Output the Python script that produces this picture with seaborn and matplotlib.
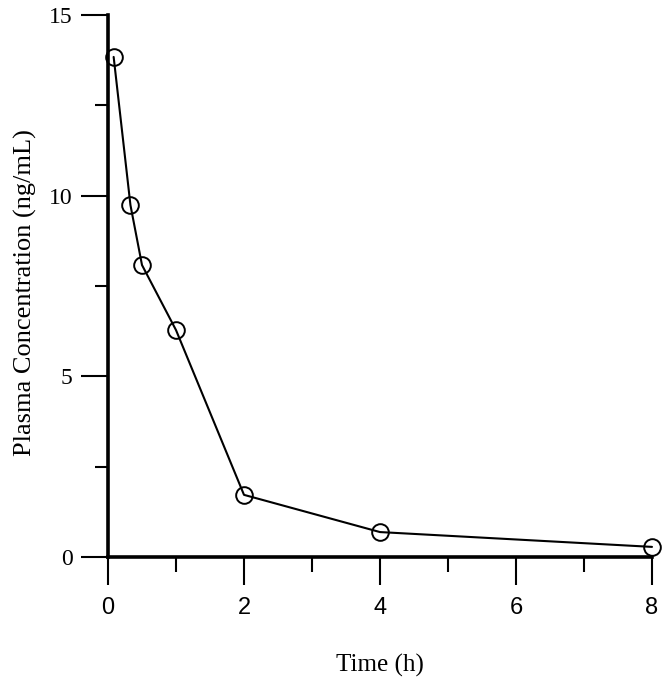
import numpy as np
import pandas as pd
import matplotlib
matplotlib.use("Agg")
import matplotlib.pyplot as plt
import seaborn as sns
from matplotlib.ticker import MultipleLocator

# data
time_h = [0.083, 0.33, 0.5, 1, 2, 4, 8]
conc = [13.84, 9.74, 8.08, 6.28, 1.72, 0.69, 0.28]
x_ticks = [0, 2, 4, 6, 8]
y_ticks = [0, 5, 10, 15]

df = pd.DataFrame({"time": time_h, "conc": conc})

sns.set_style("ticks")
plt.rcParams["font.family"] = ["Liberation Serif", "DejaVu Serif"]
plt.rcParams.update({
    "text.color": "black", "axes.labelcolor": "black", "axes.edgecolor": "black",
    "xtick.color": "black", "ytick.color": "black",
})

fig = plt.figure(figsize=(6.66, 6.79), dpi=100)
ax = fig.add_axes([108 / 666, 1 - 557 / 679, 544 / 666, 542 / 679])

sns.lineplot(data=df, x="time", y="conc", ax=ax, color="black", linewidth=1.5,
             marker="o", markersize=12, markerfacecolor="none",
             markeredgecolor="black", markeredgewidth=1.4, clip_on=False)

ax.set_xlim(0, 8)
ax.set_ylim(0, 15)
ax.set_xticks(x_ticks)
ax.set_yticks(y_ticks)
ax.xaxis.set_minor_locator(MultipleLocator(1))
ax.yaxis.set_minor_locator(MultipleLocator(2.5))

sns.despine(ax=ax)
for s in ["left", "bottom"]:
    ax.spines[s].set_linewidth(2.6)

ax.tick_params(axis="y", which="major", length=19.5, width=1.5, labelsize=17, pad=6)
ax.tick_params(axis="y", which="minor", length=9.5, width=1.5)
ax.tick_params(axis="x", which="major", length=20, width=1.5, labelsize=17, pad=9)
ax.tick_params(axis="x", which="minor", length=10.5, width=1.5)
for lab in ax.get_xticklabels():
    lab.set_family(["Liberation Sans", "DejaVu Sans"])

ax.set_xlabel("Time (h)", fontsize=18, labelpad=25)
ax.set_ylabel("Plasma Concentration (ng/mL)", fontsize=19)
ax.yaxis.set_label_coords(-0.13, 0.487)

fig.savefig("out.png", dpi=100)
